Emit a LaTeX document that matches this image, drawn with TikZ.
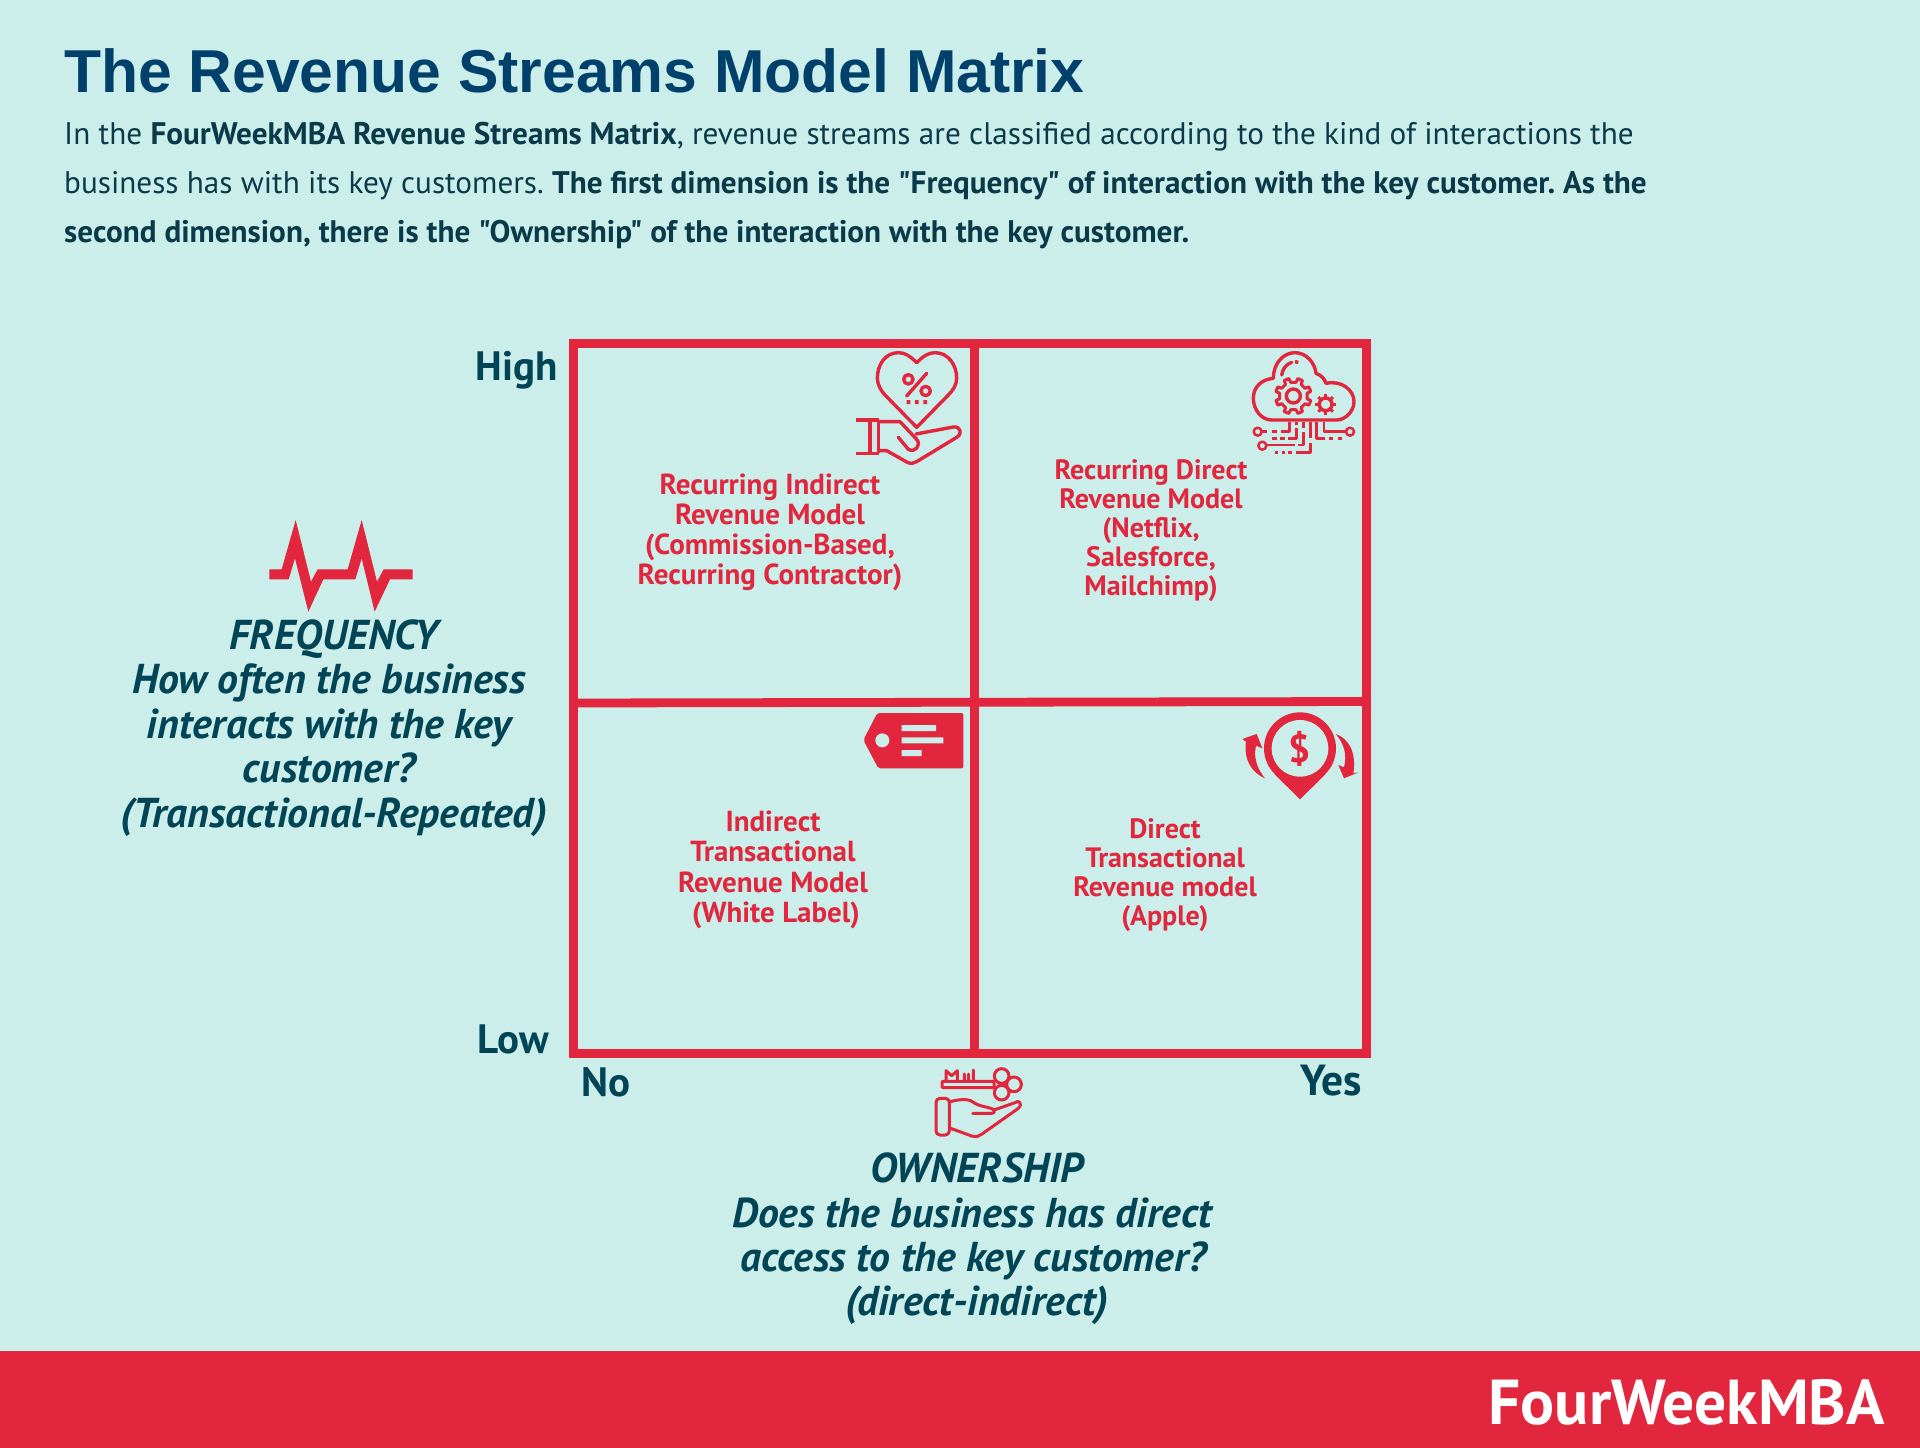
\documentclass[tikz,border=0pt]{standalone}
\usepackage{fontspec}
\setmainfont{PT Sans}[Ligatures=TeXOff]
\newfontfamily\titlefont{Liberation Sans}
\newcommand{\trail}[1]{\rule{#1}{0pt}}
\definecolor{bgc}{HTML}{CBEEEA}
\definecolor{redc}{HTML}{E1263D}
\definecolor{titlec}{HTML}{00406B}
\definecolor{bodyc}{HTML}{0A3A4A}
\definecolor{axisc}{HTML}{004455}
\tikzset{
 x=1pt,y=-1pt,
 cellbar/.style={draw=redc,line width=8.8pt},
 cell/.style 2 args={text=redc,font=\fontsize{#1}{#2}\selectfont\bfseries,align=center,anchor=center,inner sep=0pt},
 axislab/.style={text=axisc,font=\fontsize{41}{44}\selectfont\bfseries,anchor=base,inner sep=0pt},
 question/.style={text=axisc,font=\fontsize{41.7}{44.4}\selectfont\bfseries\itshape,align=center,anchor=center,inner sep=0pt},
 zoomed/.style={x=0.33333pt,y=-0.33333pt},
 ico/.style={draw=redc,line width=3.4pt,line join=round,line cap=round,fill=none},
 icothin/.style={draw=redc,line width=2.5pt,line join=round,fill=none},
 icofill/.style={fill=redc,draw=none},
 icohole/.style={fill=bgc,draw=none},
}
\begin{document}
\begin{tikzpicture}
\useasboundingbox (0,0) rectangle (1920,1448);
\fill[bgc] (0,0) rectangle (1920,1448);
\fill[redc] (0,1351) rectangle (1920,1448);
\node[anchor=base west,inner sep=0pt,text=titlec,font=\titlefont\fontsize{60.6}{70}\selectfont\bfseries] (title) at (64,92) {The Revenue Streams Model Matrix};
\node[anchor=base west,inner sep=0pt,text=bodyc,font=\fontsize{31.2}{49}\selectfont\frenchspacing,align=left] (intro) at (64,242) {In the \textbf{FourWeekMBA Revenue Streams Matrix}, revenue streams are classified according to the kind of interactions the\\
business has with its key customers. \textbf{The first dimension is the "Frequency" of interaction with the key customer. As the}\\
\textbf{second dimension, there is the "Ownership" of the interaction with the key customer.}};
% matrix
\draw[cellbar] (573.5,343.5) rectangle (1366.5,1053.5);
\draw[cellbar] (974.5,343.5) -- (974.5,1053.5);
\draw[cellbar] (573.5,703) -- (1366.5,701.5);
\node[axislab,anchor=base east] (high) at (558,380) {High};
\node[axislab,anchor=base east] (low) at (549,1053) {Low};
\node[axislab] (no) at (606,1096) {No};
\node[axislab,font=\fontsize{43.5}{44}\selectfont\bfseries] (yes) at (1331,1095) {Yes};
\node[cell={29}{30}] (c1) at (770,532) {Recurring Indirect\\Revenue Model\\(Commission-Based,\\Recurring Contractor)};
\node[cell={28}{29}] (c2) at (1151,530.5) {Recurring Direct\\ Revenue Model\\(Netflix,\\Salesforce,\\ Mailchimp)};
\node[cell={29}{30.5}] (c3) at (773,870) {Indirect\\Transactional\\Revenue Model\\ \trail{6pt}(White Label)};
\node[cell={28}{29}] (c4) at (1165,875) {Direct\\Transactional\\Revenue model\\(Apple)};
\node[question] (freq) at (334,728) {FREQUENCY\\How often the business\trail{10pt}\\interacts with the key\trail{10pt}\\customer?\trail{10pt}\\(Transactional-Repeated)};
\node[question] (own) at (977,1239) {OWNERSHIP\\Does the business has direct\trail{10pt}\\access to the key customer?\trail{7pt}\\(direct-indirect)};
\node[anchor=base east,inner sep=0pt,text=white,font=\fontsize{63.5}{70}\selectfont\bfseries] (logo) at (1885,1424) {FourWeekMBA};
% heart and hand
\begin{scope}[shift={(820,330)},zoomed]
\draw[ico] (290,98) .. controls (270,78) and (255,68) .. (235,68) .. controls (195,68) and (172,105) .. (172,145) .. controls (172,165) and (185,185) .. (195,195) -- (290,292) -- (385,195) .. controls (398,182) and (410,165) .. (410,145) .. controls (410,105) and (385,68) .. (345,68) .. controls (325,68) and (310,78) .. (290,98) -- cycle;
\draw[ico] (265,148) circle[radius=14];
\draw[ico] (317,183) circle[radius=14];
\draw[ico] (320,130) -- (260,198);
\fill[redc] (260,210) rectangle (271,222) (285,210) rectangle (296,222) (310,210) rectangle (321,222);
\draw[ico,line cap=butt] (108,270) -- (178,270) (108,370) -- (178,370) (150,270) -- (150,370) (175,270) -- (175,370);
\draw[ico] (178,275) -- (240,275) -- (290,328) .. controls (305,345) and (285,370) .. (265,358) -- (235,322);
\draw[ico] (178,362) -- (200,362) -- (262,397) .. controls (272,402) and (282,400) .. (290,395) -- (410,322) .. controls (430,310) and (420,288) .. (400,291) -- (288,312);
\end{scope}
% cloud and gears
\begin{scope}[shift={(1230,330)},zoomed]
\draw[ico] (130,145) .. controls (130,100) and (160,68) .. (195,68) .. controls (230,68) and (255,100) .. (258,130) .. controls (275,135) and (285,150) .. (288,160) .. controls (335,150) and (372,180) .. (372,215) .. controls (372,245) and (345,270) .. (320,270) -- (125,270) .. controls (95,270) and (70,240) .. (70,205) .. controls (70,170) and (95,148) .. (130,145) -- cycle;
\draw[ico] (155,135) .. controls (158,115) and (170,102) .. (185,97);
\draw[ico,line cap=butt] (195,95) -- (205,97);
\begin{scope}[shift={(190,198)}]
\draw[ico] (0,0) circle[radius=21];
\foreach \a in {22.5,67.5,...,360} \draw[ico,line width=3pt] (\a-11:42) -- (\a-8:54) -- (\a+8:54) -- (\a+11:42) -- (\a+34:42);
\end{scope}
\begin{scope}[shift={(287,223)}]
\draw[ico,line width=3.4pt] (0,0) circle[radius=19];
\foreach \a in {0,45,...,315} \draw[redc,line width=3pt] (\a:22) -- (\a:31);
\end{scope}
\draw[icothin] (83,305) circle[radius=12] (97,347) circle[radius=12] (360,305) circle[radius=12];
\draw[icothin] (95,305) -- (110,305) (125,305) -- (140,305) (153,305) -- (178,305) -- (178,275);
\draw[icothin] (125,325) -- (140,325) (150,325) -- (165,325) (175,325) -- (200,325) -- (200,295) (200,285) -- (200,275);
\draw[icothin] (109,345) -- (195,345) (205,345) -- (220,345) -- (220,305) (220,295) -- (220,275);
\draw[icothin] (135,367) -- (145,367) (155,367) -- (165,367) (175,367) -- (185,367) (197,367) -- (242,367) -- (242,340) (242,325) -- (242,275);
\draw[icothin] (260,275) -- (260,325) -- (285,325) (298,325) -- (310,325) (325,325) -- (337,325);
\draw[icothin] (282,275) -- (282,305) -- (348,305);
\end{scope}
% price tag
\begin{scope}[shift={(840,690)},zoomed]
\fill[redc,rounded corners=2pt] (70,150) -- (112,69) -- (370,69) -- (370,235) -- (115,235) -- cycle;
\fill[icohole] (127,151) circle[radius=21];
\fill[icohole] (185,105) rectangle (288,123) (185,142) rectangle (310,160) (185,180) rectangle (245,198);
\end{scope}
% location pin
\begin{scope}[shift={(1220,690)},zoomed]
\fill[icofill] (240,175) circle[radius=108];
\fill[icofill] (240,328) -- (163,252) -- (317,252) -- cycle;
\fill[icohole] (240,175) circle[radius=85];
\node[text=redc,font=\fontsize{39}{44}\selectfont\bfseries,inner sep=0pt] (dollar) at (240,178) {\$};
\fill[icofill] (135,265) .. controls (100,250) and (70,215) .. (78,155) -- (67,147) -- (110,132) -- (127,175) -- (108,167) .. controls (100,200) and (110,235) .. (135,265) -- cycle;
\fill[icofill] (347,132) .. controls (385,145) and (410,185) .. (400,250) -- (415,247) -- (372,265) -- (355,225) -- (372,232) .. controls (382,195) and (372,160) .. (347,132) -- cycle;
\end{scope}
% key and hand
\begin{scope}[shift={(920,1050)},zoomed]
\draw[ico,line width=3pt,rounded corners=1pt] (66,94) rectangle (222,113);
\draw[ico,line width=3pt] (78,92) -- (78,62) -- (95,77) -- (112,62) -- (112,92) (133,92) -- (133,72) (146,92) -- (146,72) (160,92) -- (160,60);
\draw[ico,line width=3pt] (245,78) circle[radius=22] (245,128) circle[radius=22] (282,103) circle[radius=22];
\draw[ico,line width=3pt,rounded corners=4pt] (48,145) rectangle (88,255);
\draw[ico,line width=3pt] (90,155) .. controls (125,146) and (150,146) .. (165,160) .. controls (180,170) and (215,172) .. (222,180) .. controls (226,186) and (222,190) .. (215,190) -- (158,190);
\draw[ico,line width=3pt] (92,235) -- (155,258) .. controls (170,262) and (178,258) .. (186,252) -- (295,175) .. controls (310,160) and (295,148) .. (285,158) -- (222,180);
\end{scope}
% pulse
\begin{scope}[shift={(250,510)},zoomed]
\fill[icofill] (58,178) -- (95,178) -- (137,30) -- (183,215) -- (203,178) -- (293,178) -- (335,30) -- (381,215) -- (401,178) -- (488,178) -- (488,208) -- (420,208) -- (374,305) -- (335,145) -- (316,208) -- (220,208) -- (175,305) -- (135,145) -- (116,208) -- (58,208) -- cycle;
\end{scope}
\end{tikzpicture}
\end{document}
